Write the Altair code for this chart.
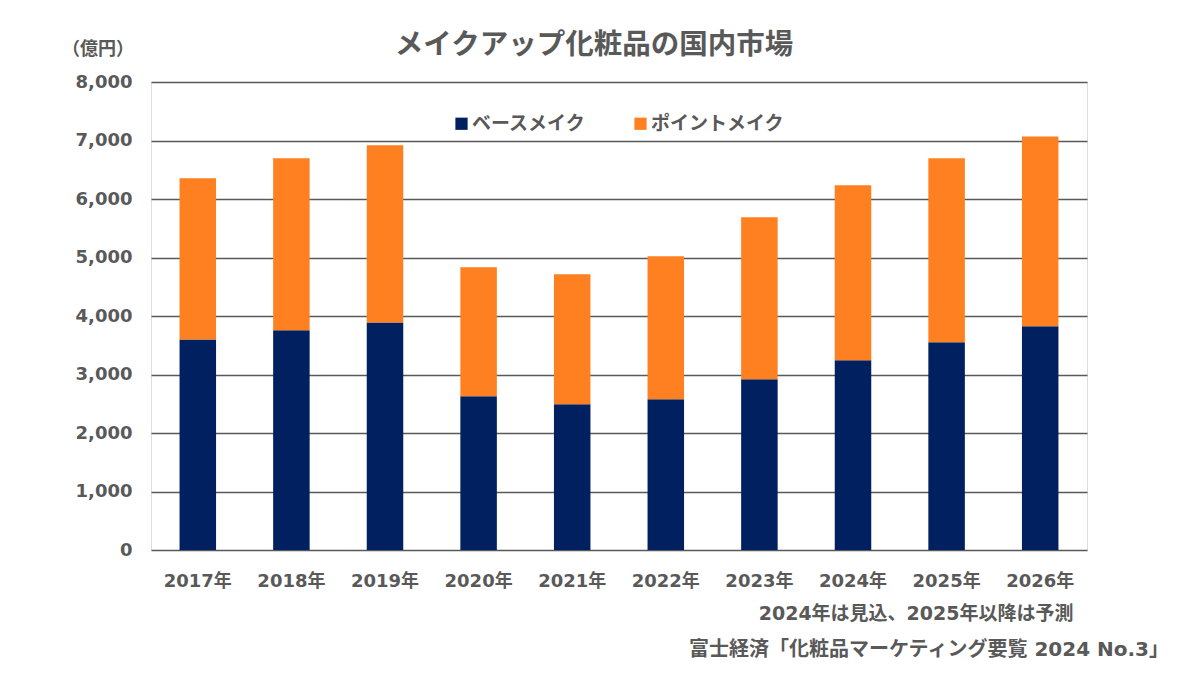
import altair as alt
import pandas as pd

years = ["2017年", "2018年", "2019年", "2020年", "2021年", "2022年", "2023年", "2024年", "2025年", "2026年"]
base_make = [3600, 3755, 3890, 2630, 2490, 2575, 2920, 3245, 3550, 3825]
point_make = [2755, 2940, 3030, 2205, 2225, 2445, 2770, 2990, 3145, 3245]
series = ["ベースメイク", "ポイントメイク"]
colors = ["#002060", "#FF8021"]
y_ticks = [0, 1000, 2000, 3000, 4000, 5000, 6000, 7000, 8000]

rows = []
for i, y in enumerate(years):
    rows.append({"year": y, "series": series[0], "value": base_make[i], "ord": 0})
    rows.append({"year": y, "series": series[1], "value": point_make[i], "ord": 1})
df = pd.DataFrame(rows)

FONT = "DejaVu Sans, Noto Sans CJK JP"
GREY = "#595959"

bars = alt.Chart(df).mark_bar().encode(
    x=alt.X("year:N", sort=years,
            scale=alt.Scale(paddingInner=0.61, paddingOuter=0.305),
            axis=alt.Axis(title="2024年は見込、2025年以降は予測", titleAngle=0,
                          titleX=922, titleY=63, titleAlign="right", titleBaseline="middle",
                          titleFont=FONT, titleFontSize=19, titleFontWeight="bold", titleColor=GREY,
                          labelFont=FONT, labelFontSize=18, labelFontWeight="bold", labelColor=GREY,
                          labelPadding=22, labelAngle=0, ticks=False, domain=False)),
    y=alt.Y("value:Q", stack="zero",
            scale=alt.Scale(domain=[0, 8000], nice=False),
            axis=alt.Axis(values=y_ticks, format=",d", title=None,
                          labelFont=FONT, labelFontSize=18, labelFontWeight="bold", labelColor=GREY,
                          labelPadding=19, ticks=False, domain=False,
                          grid=True, gridColor=GREY, gridWidth=1.4)),
    color=alt.Color("series:N", scale=alt.Scale(domain=series, range=colors),
                    legend=alt.Legend(title=None, orient="none", legendX=301, legendY=32,
                                      direction="horizontal", symbolType="square", symbolSize=150,
                                      symbolStrokeWidth=0, labelFont=FONT, labelFontSize=19,
                                      labelFontWeight="bold", labelColor=GREY, columnPadding=44,
                                      labelOffset=1)),
    order=alt.Order("ord:Q", sort="ascending"),
)

def label(text, x, y, size, align):
    return alt.Chart(pd.DataFrame({"t": [text]})).mark_text(
        align=align, baseline="middle", font=FONT, fontSize=size, fontWeight="bold", color=GREY
    ).encode(text="t:N", x=alt.value(x), y=alt.value(y))

title = label("メイクアップ化粧品の国内市場", 443, -37, 28.5, "center")
unit = label("（億円）", -17, -32, 18, "right")
source = label("富士経済「化粧品マーケティング要覧 2024 No.3」", 1018, 568, 20, "right")

chart = alt.layer(bars, title, unit, source).properties(
    width=936, height=468,
    autosize=alt.AutoSizeParams(type="none"),
    padding={"left": 143, "top": 74, "right": 100, "bottom": 112},
).configure_view(stroke=None).configure(background="white")

chart.save("out.html", embed_options={"renderer": "svg", "actions": False})
